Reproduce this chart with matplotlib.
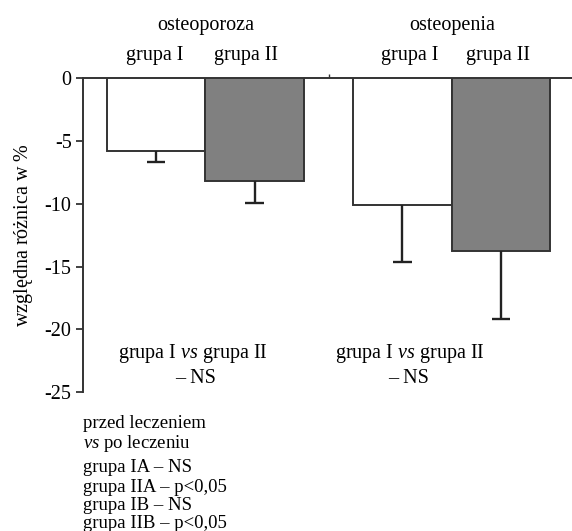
import matplotlib
matplotlib.use("Agg")
import matplotlib.pyplot as plt

plt.rcParams['font.family'] = ['Liberation Serif', 'DejaVu Serif']
plt.rcParams['mathtext.fontset'] = 'custom'
plt.rcParams['mathtext.rm'] = 'Liberation Serif'
plt.rcParams['mathtext.it'] = 'Liberation Serif:italic'

groups = ['osteoporoza', 'osteopenia']
subgroups = ['grupa I', 'grupa II']
means = [-5.8, -8.2, -10.1, -13.8]
err_low = [0.9, 1.75, 4.5, 5.4]
colors = ['white', '#808080', 'white', '#808080']
positions = [0, 1, 2.5, 3.5]
yticks = [0, -5, -10, -15, -20, -25]
compare_label = r'grupa I $\mathit{vs}$ grupa II'
compare_result = '– NS'
notes = ['przed leczeniem', r'$\mathit{vs}$ po leczeniu',
         'grupa IA – NS', 'grupa IIA – p<0,05',
         'grupa IB – NS', 'grupa IIB – p<0,05']

# layout (pixel-based)
W, H = 572, 531
sub_offsets = [-0.01, -0.09, 0.07, -0.03]
cmp_offsets = [-0.13, -0.43]
ns_offsets = [-0.1, -0.44]
note_y = [423, 443, 468, 487, 505, 523]

fig = plt.figure(figsize=(W/100, H/100), dpi=100)
ax = fig.add_axes([82.7/W, 1-392/H, 1-82.7/W, (392-78.3)/H])

ax.bar(positions, means, width=1.0, color=colors, edgecolor='#333333', linewidth=1.4, zorder=3)
bottoms = [m - e for m, e in zip(means, err_low)]
ax.vlines(positions, bottoms, means, colors='#222222', linewidth=1.7, zorder=4)
cap = 0.095
ax.hlines(bottoms, [p - cap for p in positions], [p + cap for p in positions],
          colors='#222222', linewidth=1.7, zorder=4)

ax.set_xlim(-0.745, 4.22)
ax.set_ylim(-25, 0)
ax.spines['right'].set_visible(False)
ax.spines['bottom'].set_visible(False)
for s in ('top', 'left'):
    ax.spines[s].set_linewidth(1.4)
    ax.spines[s].set_color('#333333')
ax.xaxis.tick_top()
ax.set_xticks([(positions[1] + positions[2]) / 2])
ax.set_xticklabels([''])
ax.tick_params(axis='x', length=3, width=1, colors='#333333')
ax.set_yticks(yticks)
ax.set_yticklabels([str(t) for t in yticks], fontsize=14.5)
ax.tick_params(axis='y', length=5, width=1.3, colors='#333333', labelcolor='black', pad=3)

ax.set_ylabel(r'względna różnica w $\mathit{\%}$', fontsize=14.5, labelpad=7)

xt = ax.get_xaxis_transform()
for gi, g in enumerate(groups):
    cx = (positions[2*gi] + positions[2*gi+1]) / 2
    ax.text(cx, 1 + (78.3-25)/313.7, g, transform=xt, ha='center', va='center', fontsize=14.5)
    for si, s in enumerate(subgroups):
        k = 2*gi + si
        ax.text(positions[k] + sub_offsets[k], 1 + (78.3-55)/313.7, s,
                transform=xt, ha='center', va='center', fontsize=14.5)
    ax.text(cx + cmp_offsets[gi], -21.9, compare_label, ha='center', va='center', fontsize=14.5)
    ax.text(cx + ns_offsets[gi], -23.9, compare_result, ha='center', va='center', fontsize=14.5)

for y, t in zip(note_y, notes):
    fig.text(83/W, 1 - y/H, t, ha='left', va='center', fontsize=13.5)

fig.savefig('out.png', dpi=100)
